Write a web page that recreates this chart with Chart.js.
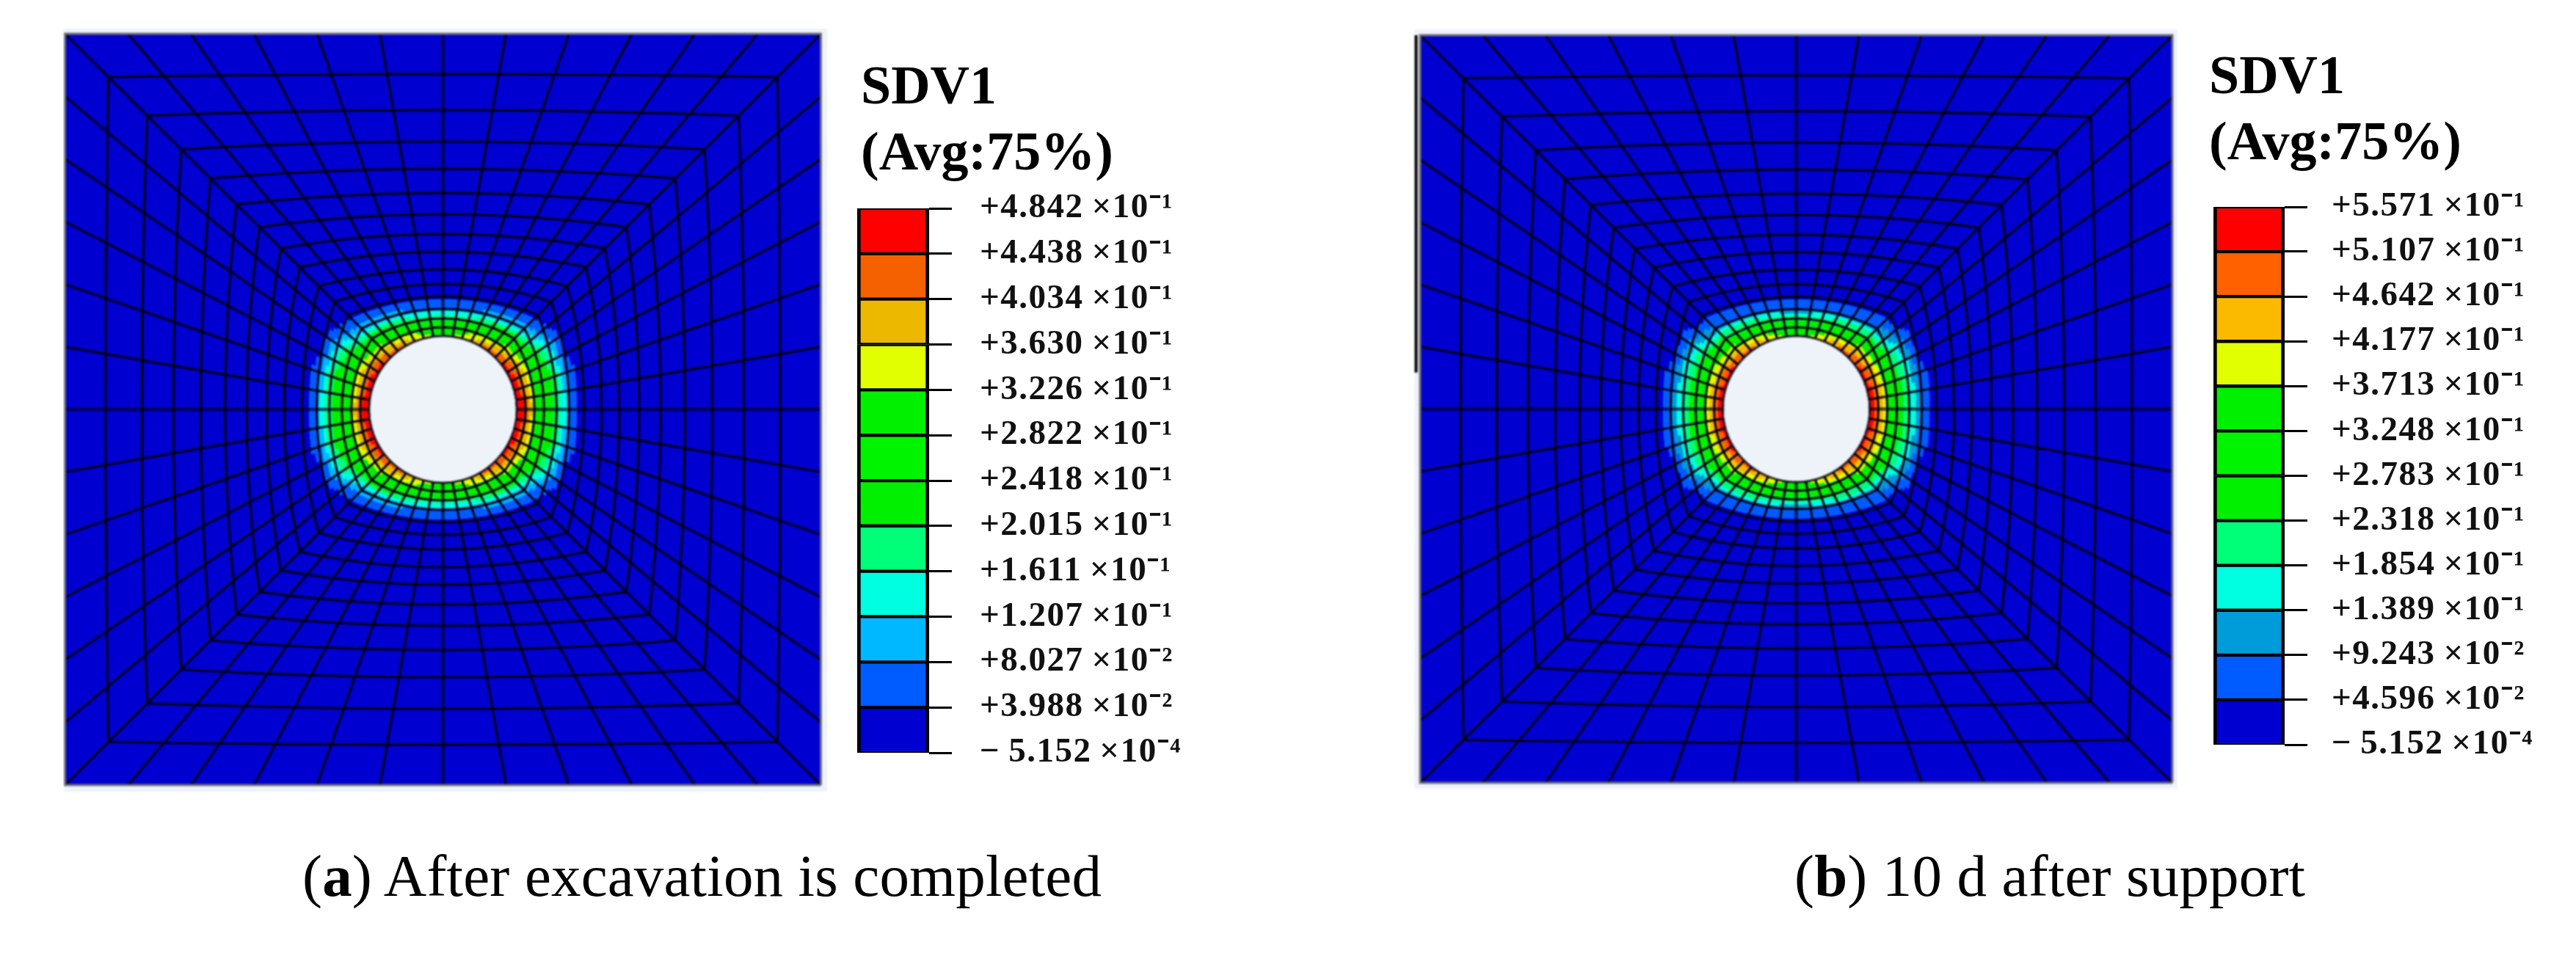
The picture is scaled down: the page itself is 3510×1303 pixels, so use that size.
<!DOCTYPE html>
<html>
<head>
<meta charset="utf-8">
<title>SDV1 contours</title>
<script src="https://cdn.jsdelivr.net/npm/chart.js@4"></script>
<style>
  html, body { margin: 0; background: #fff; }
  body { position: relative; width: 3510px; height: 1303px; overflow: hidden; }
  canvas { position: absolute; }
  .plate { background: #eef3fa; filter: blur(0.8px); }
  .bar { filter: blur(0.6px); }
  .head { position: absolute; font: bold 74px/90px "Liberation Serif", serif; color: #000; white-space: nowrap; filter: blur(0.5px); }
  .caption { position: absolute; font: 81px/90px "Liberation Serif", serif; color: #000; white-space: nowrap; letter-spacing: 0.15px; }
</style>
</head>
<body>
<canvas id="plate-a" class="plate" width="1040" height="1040" style="left:87px;top:39px"></canvas>
<canvas id="plate-b" class="plate" width="1040" height="1035" style="left:1927px;top:40px"></canvas>
<canvas id="bar-a" class="bar" width="460" height="814" style="left:1168px;top:248px"></canvas>
<canvas id="bar-b" class="bar" width="460" height="805" style="left:3016px;top:246px"></canvas>
<div class="head" style="left:1173px;top:71px">SDV1<br>(Avg:75%)</div>
<div class="head" style="left:3010px;top:57px">SDV1<br>(Avg:75%)</div>
<div class="caption" style="left:412px;top:1149px">(<b>a</b>) After excavation is completed</div>
<div class="caption" style="left:2445px;top:1149px">(<b>b</b>) 10 d after support</div>
<script>
// ring radii of the mesh, from the tunnel wall out to the plate edge
const ringRadii = [100, 112, 124, 137, 154, 171, 191, 215, 239, 266, 295, 328, 365, 408, 457, 512];

const levelsA = [-0.0005152, 0.03988, 0.08027, 0.1207, 0.1611, 0.2015, 0.2418, 0.2822, 0.3226, 0.3630, 0.4034, 0.4438, 0.4842];
const levelsB = [-0.0005152, 0.04596, 0.09243, 0.1389, 0.1854, 0.2318, 0.2783, 0.3248, 0.3713, 0.4177, 0.4642, 0.5107, 0.5571];

const labelsA = ["\u2212\u20095.152\u2009×10⁻⁴", "+3.988\u2009×10⁻²", "+8.027\u2009×10⁻²", "+1.207\u2009×10⁻¹", "+1.611\u2009×10⁻¹", "+2.015\u2009×10⁻¹", "+2.418\u2009×10⁻¹", "+2.822\u2009×10⁻¹", "+3.226\u2009×10⁻¹", "+3.630\u2009×10⁻¹", "+4.034\u2009×10⁻¹", "+4.438\u2009×10⁻¹", "+4.842\u2009×10⁻¹"];
const labelsB = ["\u2212\u20095.152\u2009×10⁻⁴", "+4.596\u2009×10⁻²", "+9.243\u2009×10⁻²", "+1.389\u2009×10⁻¹", "+1.854\u2009×10⁻¹", "+2.318\u2009×10⁻¹", "+2.783\u2009×10⁻¹", "+3.248\u2009×10⁻¹", "+3.713\u2009×10⁻¹", "+4.177\u2009×10⁻¹", "+4.642\u2009×10⁻¹", "+5.107\u2009×10⁻¹", "+5.571\u2009×10⁻¹"];

const colorsA = ["#0000d0", "#005cff", "#00b8ff", "#00ffe0", "#00ff78", "#00f000", "#00f400", "#00f000", "#e2ff00", "#ecb800", "#f56000", "#ff0000"];
const colorsB = ["#0000d0", "#005cff", "#009bd9", "#00ffe0", "#00ff78", "#00f000", "#00f400", "#00f000", "#e2ff00", "#fbb900", "#ff6000", "#ff0000"];

// SDV1 at the mesh nodes: one row per ring from the wall outwards, one column
// every 7.5 deg from the horizontal (0) to the crown (90). Outer rings are all ~0.
const ringValuesA = [
  [0.50, 0.495, 0.49, 0.48, 0.47, 0.455, 0.44, 0.43, 0.41, 0.385, 0.35, 0.32, 0.30],
  [0.42, 0.415, 0.41, 0.40, 0.385, 0.36, 0.34, 0.33, 0.32, 0.305, 0.285, 0.27, 0.27],
  [0.33, 0.33, 0.33, 0.32, 0.30, 0.26, 0.22, 0.22, 0.22, 0.21, 0.20, 0.19, 0.19],
  [0.27, 0.27, 0.265, 0.25, 0.215, 0.14, 0.09, 0.09, 0.09, 0.09, 0.085, 0.08, 0.08],
  [0.19, 0.19, 0.18, 0.15, 0.11, 0.05, 0.02, 0.02, 0.025, 0.025, 0.02, 0.02, 0.02],
  [0.08, 0.08, 0.07, 0.04, 0.03, 0.005, 0, 0, 0, 0, 0, 0, 0],
  [0, 0, 0.01, 0, 0, 0, 0, 0, 0, 0, 0, 0, 0]
];
const ringValuesB = [
  [0.56, 0.555, 0.55, 0.54, 0.53, 0.515, 0.50, 0.485, 0.465, 0.44, 0.40, 0.365, 0.34],
  [0.46, 0.46, 0.455, 0.445, 0.43, 0.41, 0.39, 0.38, 0.365, 0.345, 0.32, 0.30, 0.28],
  [0.37, 0.37, 0.365, 0.35, 0.325, 0.28, 0.25, 0.25, 0.25, 0.24, 0.225, 0.215, 0.21],
  [0.27, 0.27, 0.265, 0.245, 0.21, 0.15, 0.10, 0.10, 0.10, 0.10, 0.095, 0.09, 0.09],
  [0.18, 0.18, 0.175, 0.15, 0.11, 0.055, 0.02, 0.02, 0.025, 0.025, 0.02, 0.02, 0.02],
  [0.08, 0.08, 0.07, 0.04, 0.03, 0.005, 0, 0, 0, 0, 0, 0, 0],
  [0, 0, 0.01, 0, 0, 0, 0, 0, 0, 0, 0, 0, 0]
];

// black scan mark left of plate (b)
const scanMarkX = [-517.5, -517.5];
const scanMarkY = [512, 50];

const SPOKES = 48;
const HALF = ringRadii[ringRadii.length - 1];
const WALL = ringRadii[0];
const GAP = { x: null, y: null };

function wallPoint(i) {
  const a = i / SPOKES * 2 * Math.PI;
  return { x: WALL * Math.cos(a), y: WALL * Math.sin(a) };
}

// 12 equal divisions along every side of the plate
function edgePoint(i) {
  const k = ((i + 6) % SPOKES + SPOKES) % SPOKES;
  const side = Math.floor(k / 12);
  const s = ((k % 12) / 6 - 1) * HALF;
  if (side === 0) return { x: HALF, y: s };
  if (side === 1) return { x: -s, y: HALF };
  if (side === 2) return { x: -HALF, y: -s };
  return { x: s, y: -HALF };
}

// mesh node: spoke i (may be fractional for the contour cells), radius r
function node(i, r) {
  const w = (r - WALL) / (HALF - WALL);
  const i0 = Math.floor(i), f = i - i0;
  const a = wallPoint(i);
  const p = edgePoint(i0), q = edgePoint(i0 + 1);
  return {
    x: a.x + w * (p.x + f * (q.x - p.x) - a.x),
    y: a.y + w * (p.y + f * (q.y - p.y) - a.y)
  };
}

function nodeValue(table, i, j) {
  if (j >= table.length) return 0;
  const q = ((i % SPOKES) + SPOKES) % SPOKES;
  let col = q;
  if (q > 36) col = 48 - q;
  else if (q > 24) col = q - 24;
  else if (q > 12) col = 24 - q;
  return table[j][col];
}

function bandOf(levels, v) {
  let b = 0;
  while (b < levels.length - 2 && v >= levels[b + 1]) b++;
  return b;
}

// contour bands cut through the cells, same way the FE viewer shades them
function contourPolygons(table, levels) {
  const bands = levels.slice(1).map(() => []);
  const parts = 4;
  for (let j = 0; j < table.length; j++) {
    for (let i = 0; i < SPOKES; i++) {
      const v00 = nodeValue(table, i, j), v10 = nodeValue(table, i + 1, j);
      const v01 = nodeValue(table, i, j + 1), v11 = nodeValue(table, i + 1, j + 1);
      for (let m = 0; m < parts; m++) {
        for (let n = 0; n < parts; n++) {
          const u = (m + 0.5) / parts, t = (n + 0.5) / parts;
          const v = (1 - t) * ((1 - u) * v00 + u * v10) + t * ((1 - u) * v01 + u * v11);
          const b = bandOf(levels, v);
          if (b === 0) continue;
          const r0 = ringRadii[j] + (ringRadii[j + 1] - ringRadii[j]) * n / parts;
          const r1 = ringRadii[j] + (ringRadii[j + 1] - ringRadii[j]) * (n + 1) / parts;
          const i0 = i + m / parts, i1 = i + (m + 1) / parts;
          const first = node(i0, r0);
          bands[b].push(first, node(i1, r0), node(i1, r1), node(i0, r1), first, GAP);
        }
      }
    }
  }
  return bands;
}

function meshLines() {
  const lines = [];
  ringRadii.slice(0, -1).forEach((r) => {
    for (let i = 0; i <= SPOKES; i++) lines.push(node(i % SPOKES, r));
    lines.push(GAP);
  });
  for (let i = 0; i < SPOKES; i++) {
    if (i % 12 === 0) continue;
    ringRadii.forEach((r) => lines.push(node(i, r)));
    lines.push(GAP);
  }
  return lines;
}

function axisLines() {
  const lines = [];
  [0, 12, 24, 36].forEach((i) => {
    ringRadii.forEach((r) => lines.push(node(i, r)));
    lines.push(GAP);
  });
  return lines;
}

function wallCircle() {
  const pts = [];
  for (let k = 0; k <= 240; k++) {
    const a = k / 240 * 2 * Math.PI;
    pts.push({ x: (WALL - 1) * Math.cos(a), y: (WALL - 1) * Math.sin(a) });
  }
  return pts;
}

function drawPlate(id, table, levels, colors, pad, extra) {
  const painted = [];
  const corners = [edgePoint(-6), edgePoint(6), edgePoint(18), edgePoint(30), edgePoint(-6)];
  painted.push({ data: corners, fill: "shape", backgroundColor: colors[0], borderWidth: 0 });
  contourPolygons(table, levels).forEach((polys, b) => {
    if (b === 0 || !polys.length) return;
    painted.push({ data: polys, fill: "shape", backgroundColor: colors[b], borderColor: colors[b], borderWidth: 1 });
  });
  painted.push({ data: axisLines(), borderColor: "rgba(0,0,30,0.7)", borderWidth: 4.5 });
  painted.push({ data: meshLines(), borderColor: "#000012", borderWidth: 3 });
  painted.push({ data: corners, borderColor: "#707078", borderWidth: 3 });
  painted.push({ data: wallCircle(), fill: "shape", backgroundColor: "#eef3fa", borderColor: "#55505a", borderWidth: 1.5 });
  extra.forEach((d) => painted.push(d));

  new Chart(document.getElementById(id), {
    type: "scatter",
    // chart.js paints the first dataset last
    data: { datasets: painted.reverse().map((d) => ({ showLine: true, pointRadius: 0, spanGaps: false, clip: 8, ...d })) },
    options: {
      responsive: false,
      animation: false,
      events: [],
      layout: { padding: pad },
      plugins: { legend: { display: false }, tooltip: { enabled: false } },
      scales: {
        x: { type: "linear", display: false, min: -HALF, max: HALF },
        y: { type: "linear", display: false, min: -HALF, max: HALF }
      }
    }
  });
}

function drawBar(id, levels, labels, colors, axisWidth, labelPad) {
  const canvas = document.getElementById(id);
  new Chart(canvas, {
    type: "bar",
    data: {
      labels: ["SDV1"],
      datasets: colors.map((c, b) => ({
        data: [[levels[b], levels[b + 1]]],
        backgroundColor: c,
        borderColor: "#000",
        borderWidth: { top: 2.5, bottom: 2.5, left: 5, right: 5 },
        borderSkipped: false,
        grouped: false,
        barPercentage: 1,
        categoryPercentage: 1
      }))
    },
    options: {
      responsive: false,
      animation: false,
      events: [],
      layout: { padding: { top: 36, bottom: 36 } },
      plugins: { legend: { display: false }, tooltip: { enabled: false } },
      scales: {
        x: { display: false },
        y: {
          position: "right",
          min: levels[0],
          max: levels[levels.length - 1],
          afterBuildTicks: (scale) => { scale.ticks = levels.map((v) => ({ value: v })); },
          afterFit: (scale) => {
            scale.width = axisWidth;
            scale.paddingTop = 0;
            scale.paddingBottom = 0;
          },
          border: { display: false },
          grid: { drawOnChartArea: false, tickLength: 31, tickWidth: 3, tickColor: "#000" },
          ticks: {
            autoSkip: false,
            padding: labelPad,
            crossAlign: "near",
            color: "#111",
            font: { family: "Liberation Serif", size: 47, weight: "bold" },
            callback: (value, index) => labels[index]
          }
        }
      }
    },
    plugins: [{
      id: "wideLabels",
      beforeDraw: (chart) => { chart.ctx.letterSpacing = "1.5px"; }
    }]
  });
}

drawPlate("plate-a", ringValuesA, levelsA, colorsA, { left: 1.5, right: 8.5, top: 7, bottom: 9 }, []);
drawPlate("plate-b", ringValuesB, levelsB, colorsB, { left: 8, right: 7, top: 8, bottom: 8 }, [{
  data: scanMarkX.map((x, k) => ({ x: x, y: scanMarkY[k] })),
  borderColor: "#000",
  borderWidth: 4
}]);
drawBar("bar-a", levelsA, labelsA, colorsA, 362, 38);
drawBar("bar-b", levelsB, labelsB, colorsB, 363, 33);
</script>
</body>
</html>
